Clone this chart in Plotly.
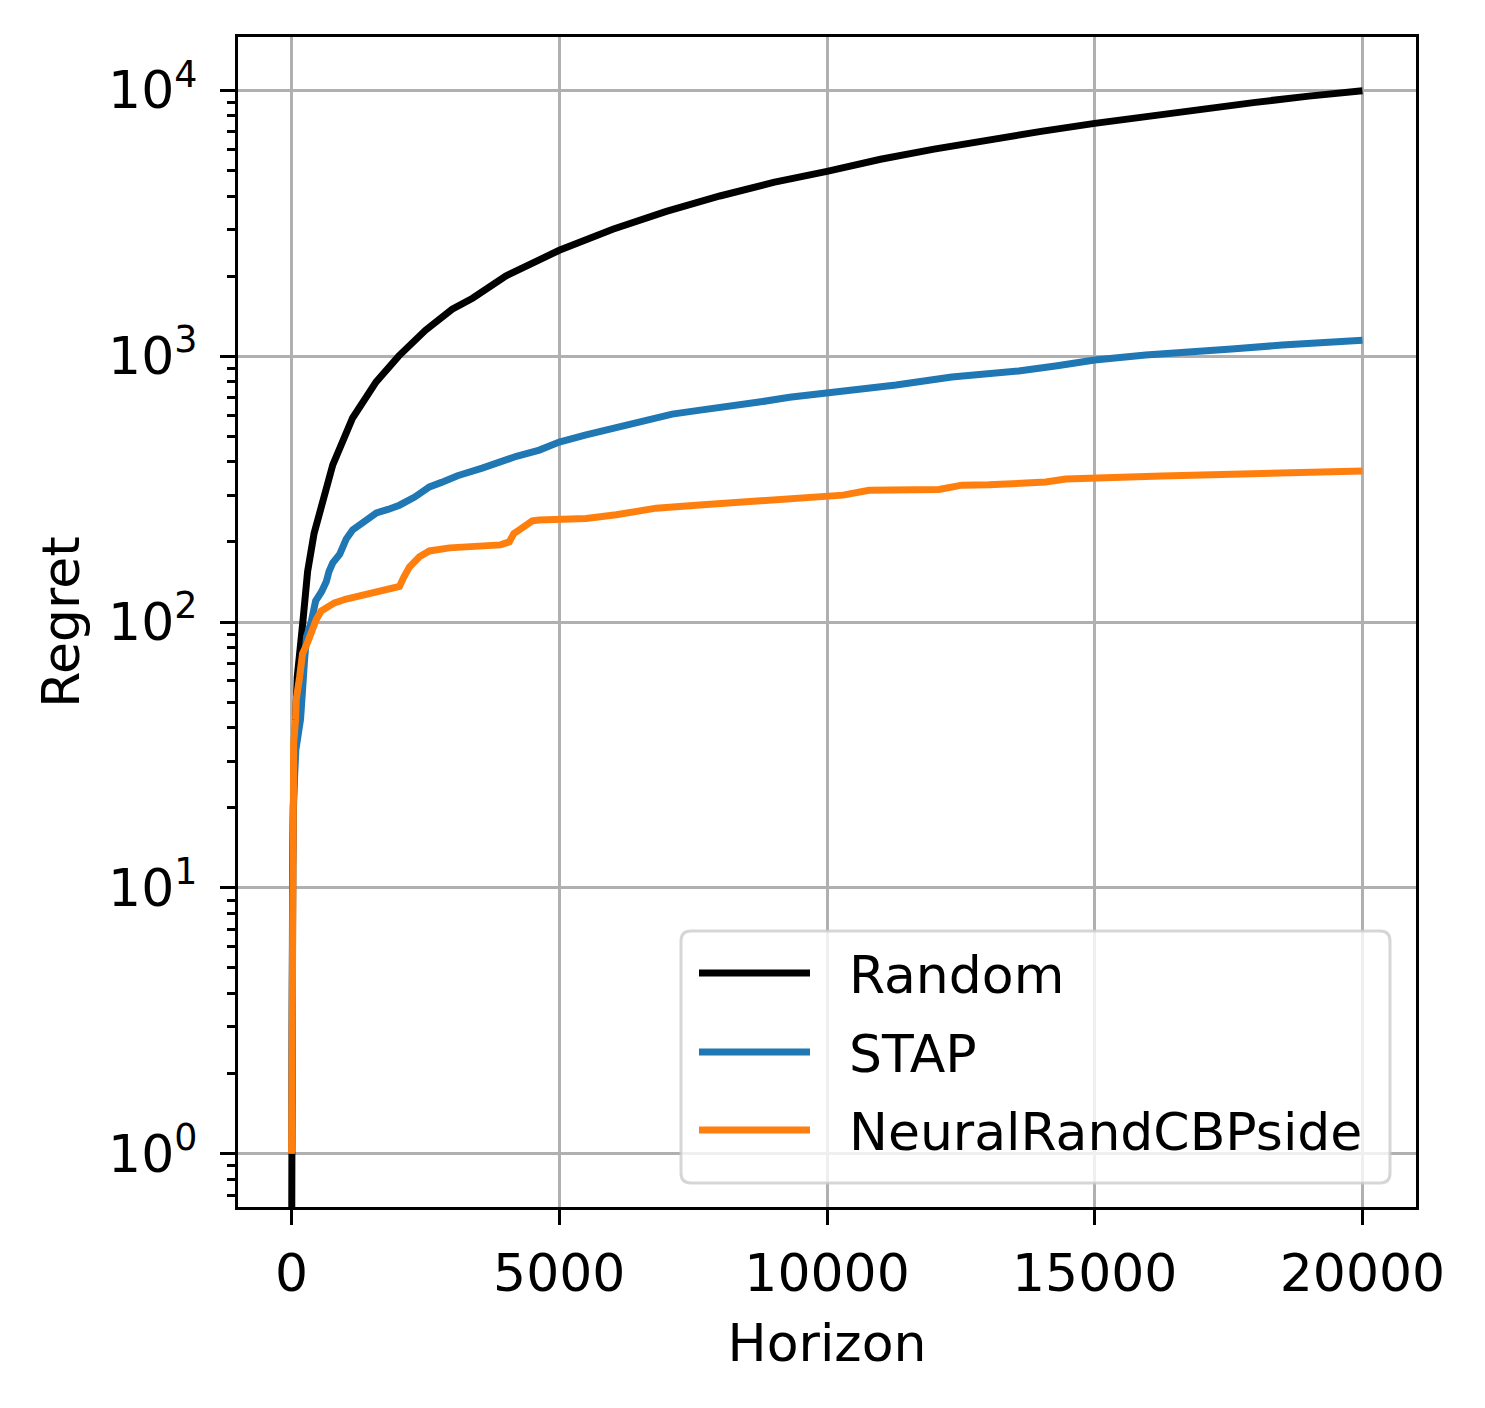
import plotly.graph_objects as go

# values (log scale regret vs horizon)
random_t = [0, 5, 20, 50, 106, 211, 300, 420, 770, 1140, 1580, 2000, 2500, 3000, 3380,
            4000, 5000, 6000, 7000, 8000, 9000, 10000, 11000, 12000, 13000, 14000,
            15000, 16000, 17000, 18000, 19000, 20000]
random_regret = [0.3, 3, 12, 30, 62, 100, 155, 215, 390, 585, 800, 1000, 1250, 1500, 1650,
                 2000, 2500, 3000, 3500, 4000, 4500, 4950, 5500, 6000, 6500, 7000,
                 7500, 8000, 8500, 9000, 9500, 9950]

stap_t = [0, 10, 30, 80, 168, 243, 280, 367, 450, 560, 650, 700, 770, 900, 1020, 1140,
          1300, 1585, 1800, 2015, 2300, 2575, 2800, 3100, 3560, 3800, 4200, 4627, 5000,
          5500, 6063, 6500, 7108, 7600, 8172, 8700, 9300, 10000, 10700, 11290, 12330,
          12836, 13580, 14300, 15000, 15950, 16700, 17556, 18500, 19300, 20000]
stap_regret = [1, 8, 20, 33, 43, 72, 88, 100, 120, 130, 142, 155, 167, 180, 205, 222,
               235, 257, 265, 275, 295, 322, 335, 355, 379, 395, 420, 443, 475,
               505, 540, 565, 605, 625, 643, 670, 700, 726, 750, 778, 834,
               850, 879, 920, 966, 1010, 1030, 1063, 1100, 1125, 1148]

neural_t = [0, 5, 15, 40, 75, 87, 150, 205, 292, 336, 430, 460, 553, 709, 800, 1020, 1325,
            1700, 1900, 2015, 2100, 2201, 2388, 2575, 2948, 3560, 3900, 4067, 4150, 4254,
            4350, 4496, 4627, 5000, 5500, 6063, 6500, 6810, 7556, 8358, 9981, 10300,
            10784, 12090, 12519, 13022, 14085, 14459, 16250, 18675, 20000]
neural_regret = [1, 5, 15, 35, 43, 51, 62, 76, 83, 88, 100, 102, 110, 114, 118, 122, 126,
                 131, 133, 136, 148, 161, 176, 185, 190, 193, 195, 200, 215, 222,
                 230, 240, 242, 242, 245, 253, 262, 268, 275, 282, 295, 300,
                 313, 315, 327, 328, 336, 345, 354, 363, 370]

series_names = ["Random", "STAP", "NeuralRandCBPside"]
series_colors = ["black", "#1f77b4", "#ff7f0e"]

x_ticks = [0, 5000, 10000, 15000, 20000]
x_ticktext = ["0", "5000", "10000", "15000", "20000"]
y_ticks = [1, 10, 100, 1000, 10000]
y_ticktext = ["10<sup>0</sup>", "10<sup>1</sup>", "10<sup>2</sup>", "10<sup>3</sup>", "10<sup>4</sup>"]

minor_y = [m * 10 ** k for k in range(-1, 4) for m in range(2, 10)]

FONT = "DejaVu Sans"
FS = 52
OFF = 8  # page body margin in front of the figure
W, H = 1485 - OFF, 1408 - OFF
L, R, T, B = 238 - OFF, 1416 - OFF, 37 - OFF, 1207 - OFF  # plot area in figure pixels


def px(x):
    return (x - OFF - L) / (R - L)


def py(y):
    return (B - (y - OFF)) / (B - T)


fig = go.Figure()
for t, v, name, col in zip([random_t, stap_t, neural_t],
                           [random_regret, stap_regret, neural_regret],
                           series_names, series_colors):
    fig.add_trace(go.Scatter(x=t, y=v, mode="lines", name=name,
                             line=dict(color=col, width=7), showlegend=False))

fig.update_layout(
    width=W, height=H,
    margin=dict(l=L, r=W - R, t=T, b=H - B, pad=0),
    paper_bgcolor="white", plot_bgcolor="white",
    font=dict(family=FONT, size=FS, color="black"),
)

fig.update_xaxes(
    range=[-1000, 21000], tickvals=x_ticks, ticktext=x_ticktext, ticks="outside",
    ticklen=15, tickwidth=3.3, tickcolor="black",
    showline=True, linecolor="black", linewidth=3.3, mirror=True,
    showgrid=True, gridcolor="#b0b0b0", gridwidth=3.3, zeroline=False,
    ticklabelstandoff=3,
    title=dict(text="Horizon", standoff=24, font=dict(size=FS)),
)
fig.update_yaxes(
    type="log", range=[-0.2, 4.2], tickvals=y_ticks, ticktext=y_ticktext,
    ticks="outside", ticklen=15, tickwidth=3.3, tickcolor="black",
    showline=True, linecolor="black", linewidth=3.3, mirror=True,
    showgrid=True, gridcolor="#b0b0b0", gridwidth=3.3, zeroline=False,
    ticklabelstandoff=12,
    minor=dict(tickvals=minor_y, ticks="outside", ticklen=8, tickwidth=2.5,
               tickcolor="black", showgrid=False),
    title=dict(text="Regret", standoff=12, font=dict(size=FS)),
)

# legend drawn by hand so the line samples are as long as in the reference
bx0, bx1, by0, by1, r = 681, 1390, 931, 1183, 10
rx, ry = r / (R - L), r / (B - T)
X0, X1, Y0, Y1 = px(bx0), px(bx1), py(by1), py(by0)
box = (f"M{X0 + rx},{Y0} L{X1 - rx},{Y0} Q{X1},{Y0} {X1},{Y0 + ry} "
       f"L{X1},{Y1 - ry} Q{X1},{Y1} {X1 - rx},{Y1} L{X0 + rx},{Y1} "
       f"Q{X0},{Y1} {X0},{Y1 - ry} L{X0},{Y0 + ry} Q{X0},{Y0} {X0 + rx},{Y0} Z")
fig.add_shape(type="path", path=box, xref="paper", yref="paper", layer="above",
              fillcolor="rgba(255,255,255,0.8)", line=dict(color="rgba(204,204,204,0.8)", width=3))

rows = [973, 1052, 1130]
for yrow, name, col in zip(rows, series_names, series_colors):
    fig.add_shape(type="line", xref="paper", yref="paper", layer="above",
                  x0=px(699), x1=px(810), y0=py(yrow), y1=py(yrow),
                  line=dict(color=col, width=7))
    fig.add_annotation(x=px(847), y=py(yrow + 2), xref="paper", yref="paper",
                       text=name, showarrow=False, xanchor="left", yanchor="middle",
                       font=dict(family=FONT, size=FS, color="black"))

fig.write_html("out.html")
